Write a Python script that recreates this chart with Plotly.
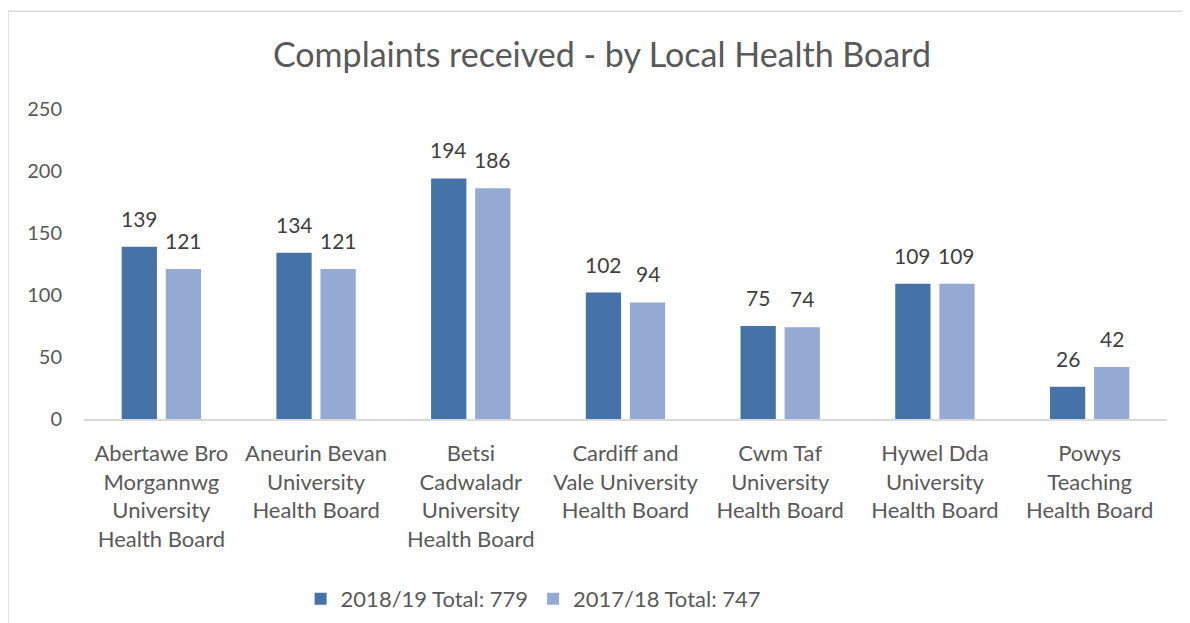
import plotly.graph_objects as go

categories = [
    "Abertawe Bro<br>Morgannwg<br>University<br>Health Board",
    "Aneurin Bevan<br>University<br>Health Board",
    "Betsi<br>Cadwaladr<br>University<br>Health Board",
    "Cardiff and<br>Vale University<br>Health Board",
    "Cwm Taf<br>University<br>Health Board",
    "Hywel Dda<br>University<br>Health Board",
    "Powys<br>Teaching<br>Health Board",
]
values_2018_19 = [139, 134, 194, 102, 75, 109, 26]
values_2017_18 = [121, 121, 186, 94, 74, 109, 42]
series_names = ["2018/19 Total: 779", "2017/18 Total: 747"]
y_ticks = [0, 50, 100, 150, 200, 250]

FONT = "Lato"
TXT = "#595959"
LBL = "#404040"

# page body has an 8px margin: figure coords = screen coords - 8
L, PW, T, PH = 76, 1083, 101, 311
W, H = 1190, 623

fig = go.Figure()
fig.add_trace(go.Bar(
    x=categories, y=values_2018_19, name=series_names[0],
    marker=dict(color="#4572A7", line=dict(width=0)),
))
fig.add_trace(go.Bar(
    x=categories, y=values_2017_18, name=series_names[1],
    marker=dict(color="#95AAD3", line=dict(width=0)),
))

annotations = []
for vals, xs in ((values_2018_19, -22), (values_2017_18, 22)):
    for c, v in zip(categories, vals):
        annotations.append(dict(
            x=c, y=v, xref="x", yref="y", text=str(v), showarrow=False,
            xanchor="center", yanchor="bottom", xshift=xs, yshift=14,
            font=dict(size=21, color=LBL, family=FONT),
        ))

fig.update_layout(
    width=W, height=H,
    margin=dict(l=L, r=W - L - PW, t=T, b=H - T - PH),
    paper_bgcolor="white", plot_bgcolor="white",
    barmode="group", bargap=0.43, bargroupgap=0.2,
    font=dict(family=FONT, color=TXT, size=20),
    title=dict(text="Complaints received - by Local Health Board",
               x=594 / W, xanchor="center", y=1 - 47 / H, yanchor="middle",
               font=dict(size=34, color=TXT, family=FONT)),
    showlegend=True,
    legend=dict(orientation="h", x=0.200, xanchor="left", y=-0.575, yanchor="middle",
                font=dict(size=22, color=TXT, family=FONT), itemwidth=30,
                traceorder="normal", bgcolor="rgba(0,0,0,0)"),
    xaxis=dict(showline=True, linecolor="#d9d9d9", linewidth=1.5, ticks="",
               automargin=False, ticklabelstandoff=14,
               tickfont=dict(size=22, color=TXT, family=FONT), showgrid=False),
    yaxis=dict(range=[0, 250], tickvals=y_ticks, showgrid=False, zeroline=False,
               showline=False, ticks="", ticklabelstandoff=21, automargin=False,
               tickfont=dict(size=20, color=TXT, family=FONT)),
    annotations=annotations,
    shapes=[dict(type="rect", xref="paper", yref="paper",
                 x0=(0 - L) / PW, x1=(1210 - L) / PW,
                 y0=(T + PH - 640) / PH, y1=(T + PH - 3) / PH,
                 line=dict(color="#d9d9d9", width=1.5), fillcolor="rgba(0,0,0,0)",
                 layer="below")],
)

fig.write_html("out.html")
